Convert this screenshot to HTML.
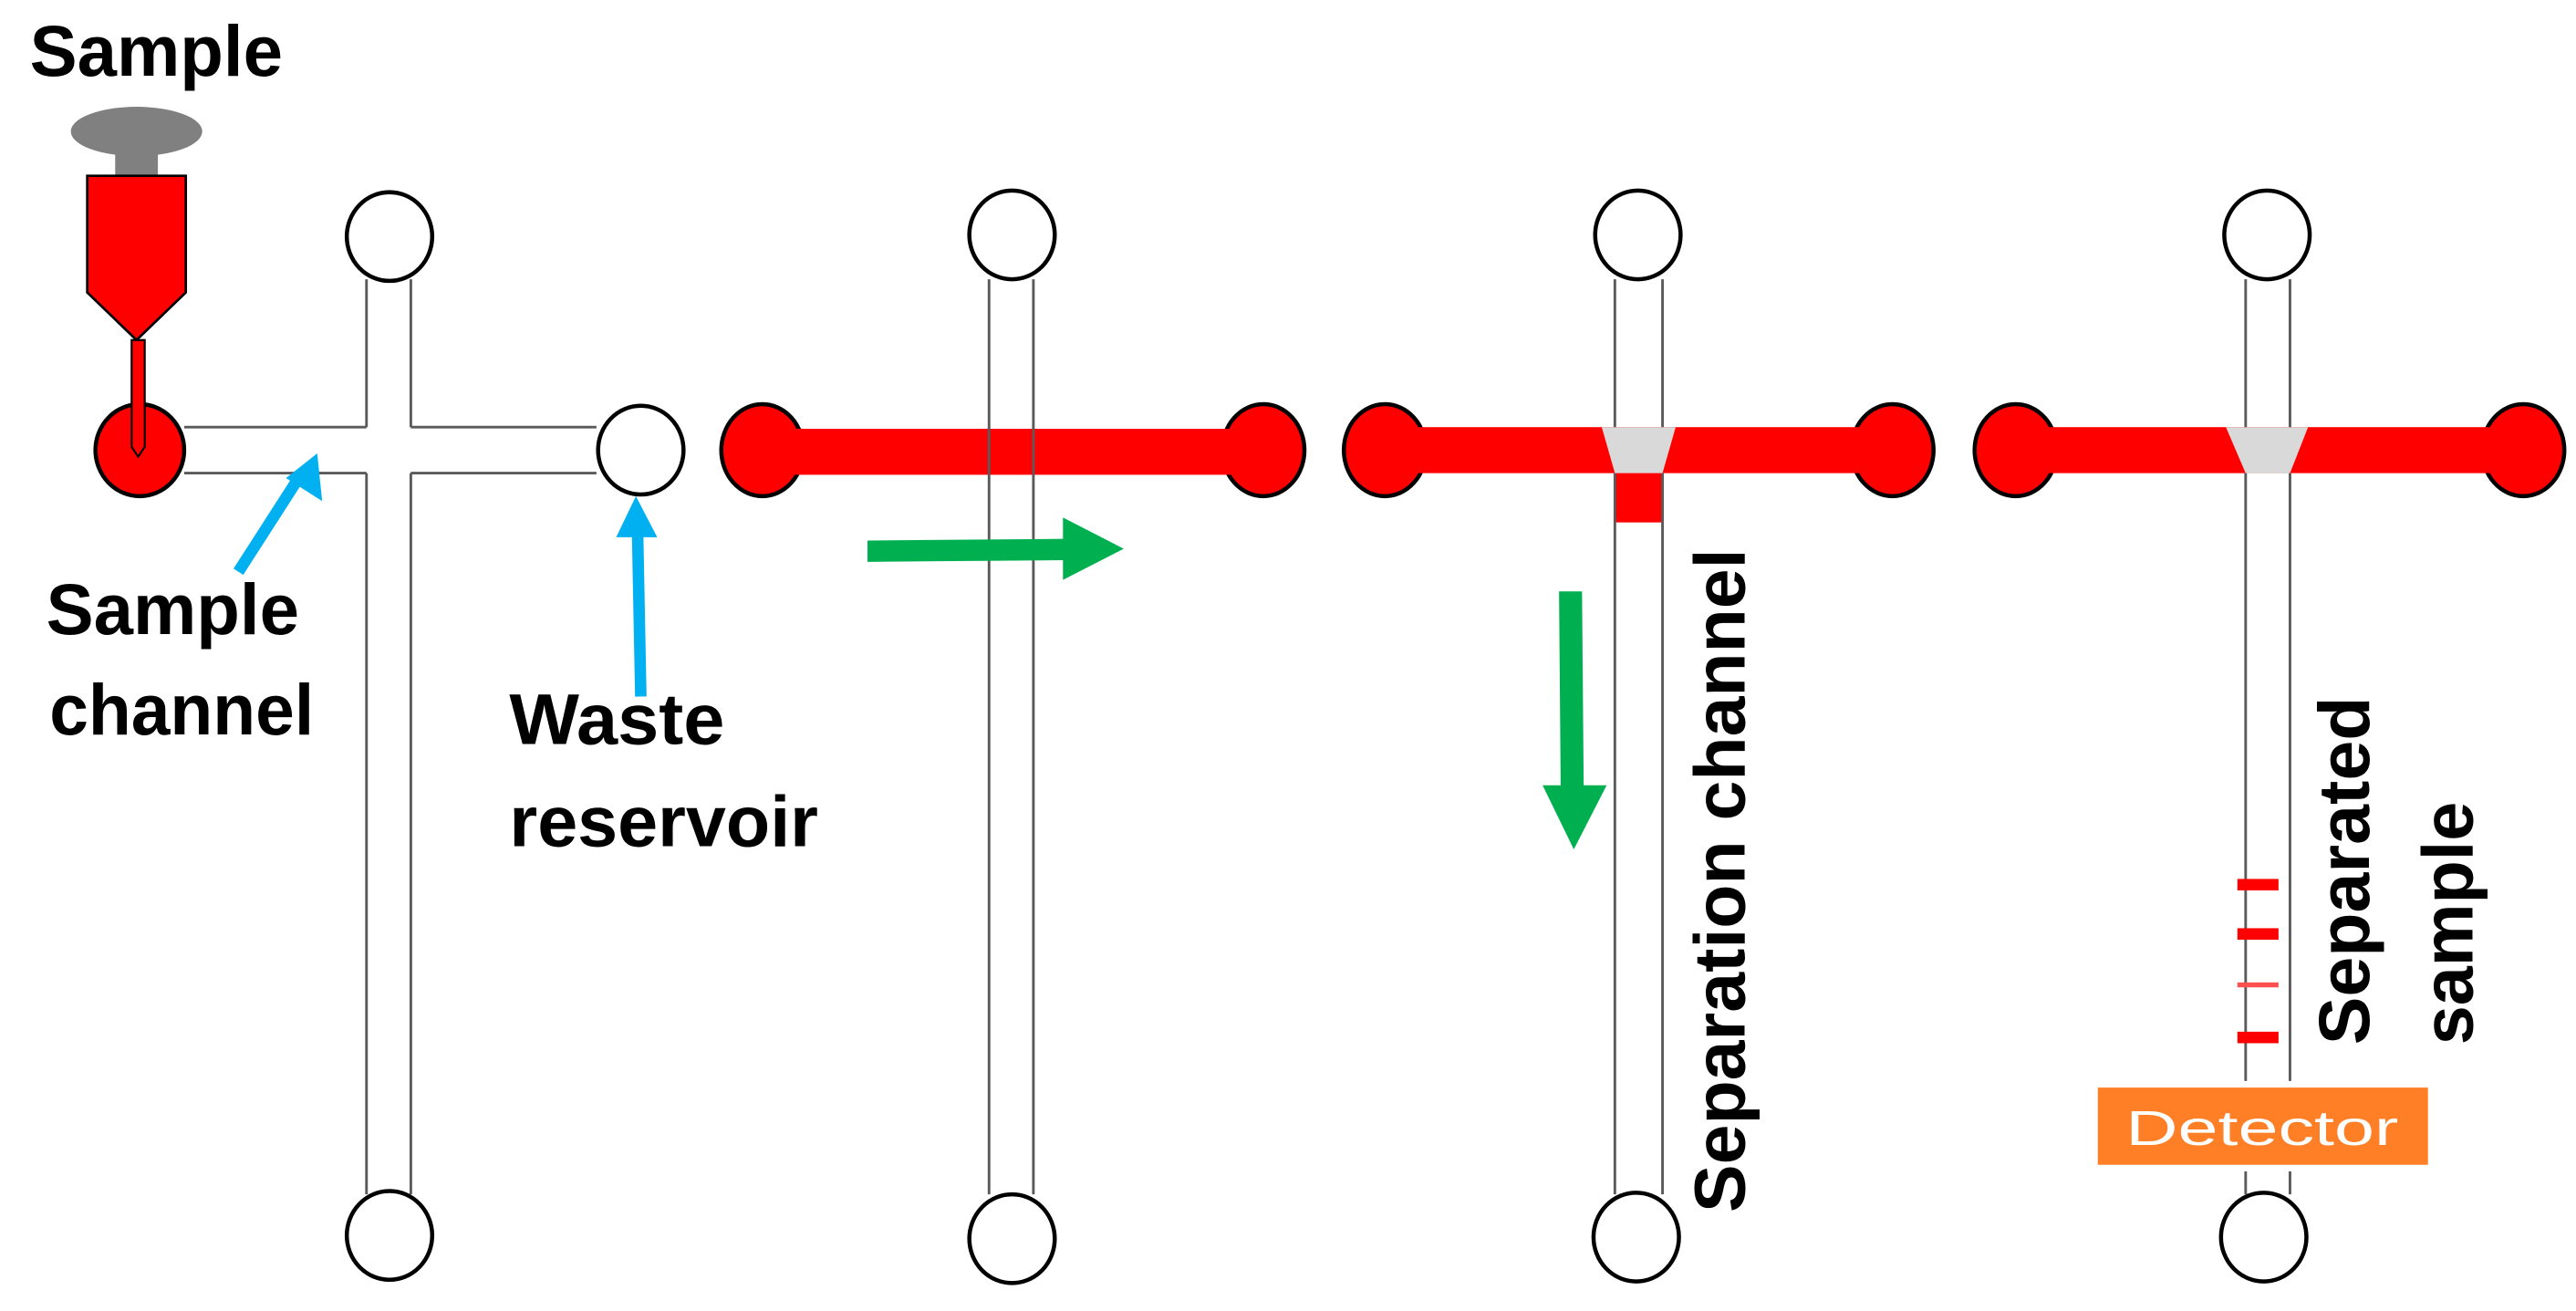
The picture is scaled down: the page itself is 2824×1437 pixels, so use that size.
<!DOCTYPE html>
<html><head><meta charset="utf-8"><style>html,body{margin:0;padding:0;background:#fff}svg{display:block}</style></head>
<body>
<svg width="2824" height="1437" viewBox="0 0 1568 798" xmlns="http://www.w3.org/2000/svg" font-family="Liberation Sans, sans-serif" font-weight="bold">
<rect width="1568" height="798" fill="#fff"/>
<g fill="none" stroke="#5a5a5a" stroke-width="1.6">
<line x1="112" y1="260" x2="223" y2="260"/><line x1="250" y1="260" x2="363" y2="260"/>
<line x1="112" y1="288" x2="223" y2="288"/><line x1="250" y1="288" x2="363" y2="288"/>
<line x1="223" y1="170" x2="223" y2="260"/><line x1="250" y1="170" x2="250" y2="260"/>
<line x1="223" y1="288" x2="223" y2="727"/><line x1="250" y1="288" x2="250" y2="727"/>
</g>
<ellipse cx="83" cy="80" rx="40" ry="15" fill="#808080"/>
<rect x="70" y="92" width="26" height="16" fill="#808080"/>
<polygon points="53,107 113,107 113,178 83,207 53,178" fill="#f00" stroke="#000" stroke-width="1.5"/>
<ellipse cx="85" cy="274" rx="27" ry="28" fill="#f00" stroke="#000" stroke-width="2.5"/>
<path d="M80,207 L88,207 L88,272 L84,278 L80,272 Z" fill="#f00" stroke="#000" stroke-width="1.2"/>
<g fill="#fff" stroke="#000" stroke-width="2.5">
<ellipse cx="237" cy="144" rx="26" ry="27"/><ellipse cx="237" cy="752" rx="26" ry="27"/>
<ellipse cx="390" cy="274" rx="26" ry="27"/>
</g>
<g fill="#00b0f0" stroke="#00b0f0">
<line x1="145" y1="348" x2="181" y2="292" stroke-width="7"/>
<polygon points="193,276 196,305 174,291" stroke="none"/>
<line x1="390" y1="424" x2="388" y2="322" stroke-width="7"/>
<polygon points="387,302 400,327 375,327" stroke="none"/>
</g>
<g fill="#000" font-size="44">
<text x="18" y="46" textLength="154" lengthAdjust="spacingAndGlyphs">Sample</text>
<text x="28" y="386" textLength="154" lengthAdjust="spacingAndGlyphs">Sample</text>
<text x="30" y="447" textLength="161" lengthAdjust="spacingAndGlyphs">channel</text>
<text x="310" y="453" textLength="131" lengthAdjust="spacingAndGlyphs">Waste</text>
<text x="310" y="515" textLength="188" lengthAdjust="spacingAndGlyphs">reservoir</text>
</g>
<g fill="#f00" stroke="#000" stroke-width="2.5">
<ellipse cx="464" cy="274" rx="25" ry="28"/><ellipse cx="769" cy="274" rx="25" ry="28"/>
<ellipse cx="843" cy="274" rx="25" ry="28"/><ellipse cx="1152" cy="274" rx="25" ry="28"/>
<ellipse cx="1227" cy="274" rx="25" ry="28"/><ellipse cx="1536" cy="274" rx="25" ry="28"/>
</g>
<rect x="464" y="261" width="305" height="28" fill="#f00"/>
<rect x="843" y="260" width="309" height="28" fill="#f00"/>
<rect x="1227" y="260" width="309" height="28" fill="#f00"/>
<polygon points="975,260 1020,260 1012,288 983,288" fill="#d9d9d9"/>
<polygon points="1355,260 1405,260 1394,288 1367,288" fill="#d9d9d9"/>
<rect x="983" y="288" width="29" height="30" fill="#f00"/>
<g fill="none" stroke="#5a5a5a" stroke-width="1.6">
<line x1="602" y1="170" x2="602" y2="727"/><line x1="629" y1="170" x2="629" y2="727"/>
<line x1="983" y1="170" x2="983" y2="260"/><line x1="1012" y1="170" x2="1012" y2="260"/>
<line x1="983" y1="288" x2="983" y2="727"/><line x1="1012" y1="288" x2="1012" y2="727"/>
<line x1="1367" y1="170" x2="1367" y2="260"/><line x1="1394" y1="170" x2="1394" y2="260"/>
<line x1="1367" y1="288" x2="1367" y2="658"/><line x1="1394" y1="288" x2="1394" y2="658"/>
<line x1="1367" y1="713" x2="1367" y2="727"/><line x1="1394" y1="713" x2="1394" y2="727"/>
</g>
<g fill="#fff" stroke="#000" stroke-width="2.5">
<ellipse cx="616" cy="143" rx="26" ry="27"/><ellipse cx="616" cy="754" rx="26" ry="27"/>
<ellipse cx="997" cy="143" rx="26" ry="27"/><ellipse cx="996" cy="753" rx="26" ry="27"/>
<ellipse cx="1380" cy="143" rx="26" ry="27"/><ellipse cx="1378" cy="753" rx="26" ry="27"/>
</g>
<polygon points="528,329 647,328 647,315 684,334 647,353 647,341 528,342" fill="#00b050"/>
<polygon points="949,360 963,360 964,478 978,478 958,517 939,478 950,478" fill="#00b050"/>
<g fill="#f00">
<rect x="1362" y="535" width="25" height="7"/>
<rect x="1362" y="565" width="25" height="7"/>
<rect x="1362" y="598" width="25" height="3" fill="#ff5050"/>
<rect x="1362" y="628" width="25" height="7"/>
</g>
<rect x="1277" y="662" width="201" height="47" fill="#ff7f27"/>
<text x="1377" y="697" font-size="30" font-weight="normal" fill="#fff" text-anchor="middle" textLength="166" lengthAdjust="spacingAndGlyphs">Detector</text>
<g fill="#000" font-size="44">
<text transform="translate(1062,738) rotate(-90)" textLength="404" lengthAdjust="spacingAndGlyphs">Separation channel</text>
<text transform="translate(1442,636) rotate(-90)" textLength="212" lengthAdjust="spacingAndGlyphs">Separated</text>
<text transform="translate(1505,636) rotate(-90)" textLength="148" lengthAdjust="spacingAndGlyphs">sample</text>
</g>
</svg>
</body></html>
